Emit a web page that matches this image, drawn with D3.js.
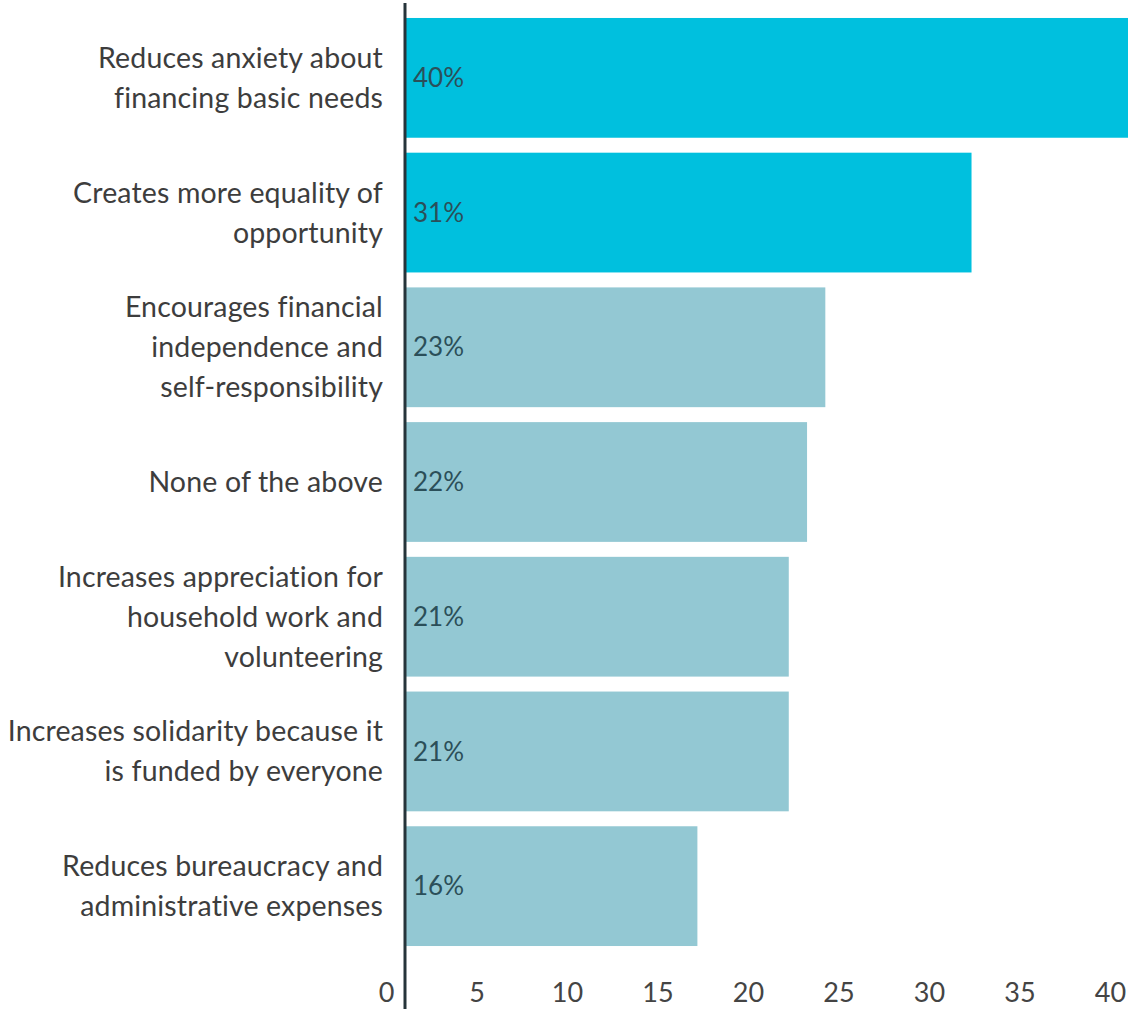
<!DOCTYPE html>
<html>
<head>
<meta charset="utf-8">
<script src="https://cdn.jsdelivr.net/npm/d3@7"></script>
<style>
html,body{margin:0;padding:0;background:#fff;}
svg{display:block;}
</style>
</head>
<body>
<svg id="chart" width="1128" height="1009"></svg>
<script>
const categories = [
  ["Reduces anxiety about", "financing basic needs"],
  ["Creates more equality of", "opportunity"],
  ["Encourages financial", "independence and", "self-responsibility"],
  ["None of the above"],
  ["Increases appreciation for", "household work and", "volunteering"],
  ["Increases solidarity because it", "is funded by everyone"],
  ["Reduces bureaucracy and", "administrative expenses"]
];
const values = [40, 31, 23, 22, 21, 21, 16];
const valueLabels = ["40%", "31%", "23%", "22%", "21%", "21%", "16%"];
const highlighted = [true, true, false, false, false, false, false];
const xTicks = [0, 5, 10, 15, 20, 25, 30, 35, 40];

const svg = d3.select("#chart");
const font = "Lato, 'Open Sans', sans-serif";

const x = d3.scaleLinear().domain([0, 40]).range([405, 1136]);
// tick labels in the reference sit slightly left of the bar scale
const xLabel = d3.scaleLinear().domain([0, 40]).range([386, 1110]);
const y = d3.scaleBand()
  .domain(d3.range(values.length))
  .range([10.5, 953.5])
  .paddingInner(0.111)
  .paddingOuter(0.0555);

// bars
svg.append("g").selectAll("rect")
  .data(values)
  .join("rect")
  .attr("x", x(0))
  .attr("y", (d, i) => y(i))
  .attr("width", d => x(d) - x(0))
  .attr("height", y.bandwidth())
  .attr("fill", (d, i) => highlighted[i] ? "#00c0de" : "#93c8d3");

// value labels
svg.append("g").selectAll("text")
  .data(valueLabels)
  .join("text")
  .attr("x", x(0) + 8)
  .attr("y", (d, i) => y(i) + y.bandwidth() / 2)
  .attr("dy", "0.35em")
  .attr("font-family", font)
  .attr("font-size", 26)
  .attr("fill", "#2b4f59")
  .text(d => d);

// category labels
const lineH = 40;
const catG = svg.append("g");
categories.forEach((lines, i) => {
  const cy = y(i) + y.bandwidth() / 2;
  const t = catG.append("text")
    .attr("text-anchor", "end")
    .attr("font-family", font)
    .attr("font-size", 28.5)
    .attr("letter-spacing", 0.15)
    .attr("fill", "#3d3d3d");
  lines.forEach((ln, j) => {
    t.append("tspan")
      .attr("x", 383)
      .attr("y", cy + (j - (lines.length - 1) / 2) * lineH)
      .attr("dy", "0.35em")
      .text(ln);
  });
});

// x axis tick labels
const axis = d3.axisBottom(xLabel).tickValues(xTicks).tickSize(0).tickPadding(0);
const ax = svg.append("g").attr("transform", "translate(0,993)").call(axis);
ax.select(".domain").remove();
ax.selectAll("text")
  .attr("y", 0)
  .attr("dy", "0.35em")
  .attr("font-family", font)
  .attr("font-size", 27)
  .attr("fill", "#444");

// vertical axis line
svg.append("line")
  .attr("x1", x(0)).attr("x2", x(0))
  .attr("y1", 3).attr("y2", 1009)
  .attr("stroke", "#26343a")
  .attr("stroke-width", 3);
</script>
</body>
</html>
